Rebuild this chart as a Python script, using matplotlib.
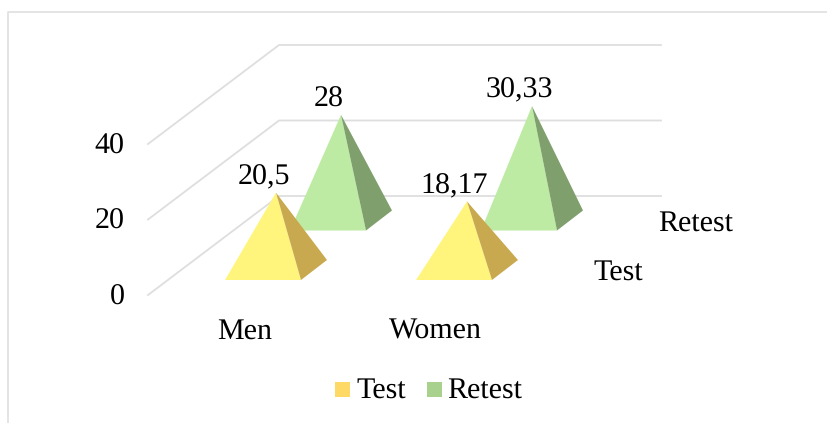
import matplotlib
matplotlib.use("Agg")
import matplotlib.pyplot as plt
from matplotlib.patches import Polygon, Rectangle

categories = ["Men", "Women"]
series_names = ["Test", "Retest"]
test_values = [20.5, 18.17]
retest_values = [28, 30.33]
test_labels = ["20,5", "18,17"]
retest_labels = ["28", "30,33"]
axis_ticks = [0, 20, 40]

FACE = {"Test": "#FFF57C", "Retest": "#BDEBA4"}
SIDE = {"Test": "#C9A94F", "Retest": "#7F9F6D"}
SWATCH = {"Test": "#FFD966", "Retest": "#A9D18E"}
GRID = "#DEDEDE"
FONT = "Liberation Serif"
SIZE = 21.4

plt.rcParams["text.hinting"] = "no_hinting"
plt.rcParams["text.hinting_factor"] = 1

# Oblique projection of the 3-D chart box, in figure pixels.
UNIT = 75.5 / 20          # pixels per value unit
ZERO_Y = 295.0            # front floor edge
DEPTH_DX, DEPTH_DY = 131.0, -99.0
WALL_RIGHT = 661.0
LEFT_X = 148.0
BASE_W, BASE_DX, BASE_DY = 76.0, 26.0, -20.0
FRONT_LEFT = [[225.0, 416.0], [290.0, 481.0]]
FRONT_Y = [280.0, 230.5]

fig = plt.figure(figsize=(8.27, 4.23), dpi=100)
ax = fig.add_axes([0, 0, 1, 1])
ax.set_xlim(0, 827)
ax.set_ylim(423, 0)
ax.axis("off")

# Chart frame: left and top edges
ax.plot([8, 8, 827], [423, 12, 12], color="#E2E2E2", lw=1.3, zorder=1)

# Floor and wall gridlines with the value axis labels
for t in axis_ticks:
    y = ZERO_Y - t * UNIT
    ax.plot([LEFT_X, LEFT_X + DEPTH_DX, WALL_RIGHT],
            [y, y + DEPTH_DY, y + DEPTH_DY], color=GRID, lw=1.3, zorder=1)
    ax.text(124.5, y + 9.5, str(t), ha="right", va="baseline",
            family=FONT, size=SIZE, color="black")


def pyramid(x0, y0, value, name, label):
    top_x = x0 + BASE_W / 2 + BASE_DX / 2
    top_y = y0 + BASE_DY / 2 - value * UNIT
    fr = (x0 + BASE_W, y0)
    br = (x0 + BASE_W + BASE_DX, y0 + BASE_DY)
    ax.add_patch(Polygon([(x0, y0), fr, (top_x, top_y)], closed=True,
                         fc=FACE[name], ec="none", zorder=3))
    ax.add_patch(Polygon([fr, br, (top_x, top_y)], closed=True,
                         fc=SIDE[name], ec="none", zorder=3))
    ax.text(top_x - 12.5, top_y - 8.5, label, ha="center", va="baseline",
            family=FONT, size=SIZE, color="black", zorder=5)


# Back row first so the front row overlaps it
for name, vals, labs, row in [("Retest", retest_values, retest_labels, 1),
                              ("Test", test_values, test_labels, 0)]:
    for i, (v, lab) in enumerate(zip(vals, labs)):
        pyramid(FRONT_LEFT[row][i], FRONT_Y[row], v, name, lab)

# Category and depth-axis labels
for x, cat in zip([245, 435], categories):
    ax.text(x, 339, cat, ha="center", va="baseline", family=FONT, size=SIZE)
ax.text(593.5, 280, series_names[0], ha="left", va="baseline", family=FONT, size=SIZE)
ax.text(658, 231, series_names[1], ha="left", va="baseline", family=FONT, size=SIZE)

# Legend
for x, tx, name in [(335, 356, "Test"), (427, 447.5, "Retest")]:
    ax.add_patch(Rectangle((x, 382), 14.5, 15, fc=SWATCH[name], ec="none"))
    ax.text(tx, 398, name, ha="left", va="baseline", family=FONT, size=SIZE)

fig.savefig("out.png", dpi=100)
